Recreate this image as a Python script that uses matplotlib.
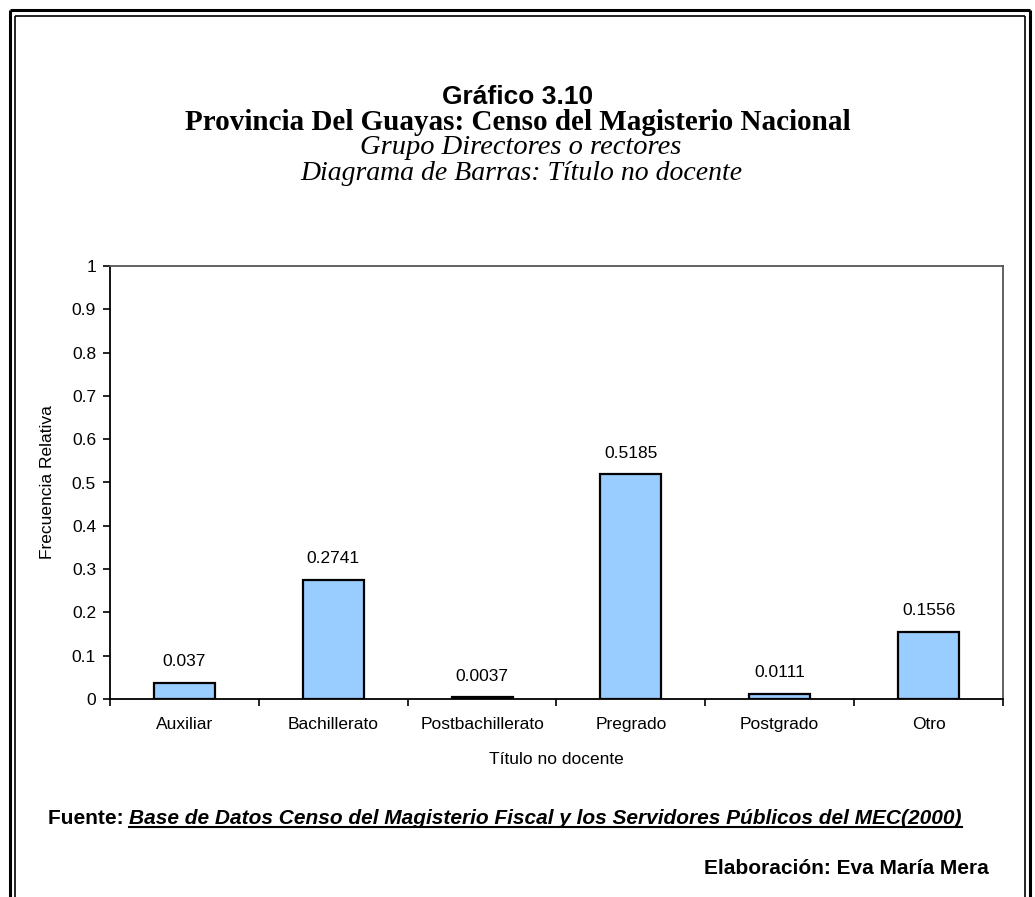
import matplotlib
matplotlib.use("Agg")
import matplotlib.pyplot as plt
from matplotlib.lines import Line2D

categories = ["Auxiliar", "Bachillerato", "Postbachillerato", "Pregrado", "Postgrado", "Otro"]
frecuencia = [0.037, 0.2741, 0.0037, 0.5185, 0.0111, 0.1556]
value_labels = ["0.037", "0.2741", "0.0037", "0.5185", "0.0111", "0.1556"]
y_ticks = [0, 0.1, 0.2, 0.3, 0.4, 0.5, 0.6, 0.7, 0.8, 0.9, 1]
y_tick_labels = ["0", "0.1", "0.2", "0.3", "0.4", "0.5", "0.6", "0.7", "0.8", "0.9", "1"]

W, H = 1035, 897
fig = plt.figure(figsize=(W / 100, H / 100), dpi=100)
fig.patch.set_facecolor("white")

SANS = "Liberation Sans"
SERIF = "Liberation Serif"
SMALL = 12.5


def fx(px):
    return px / W


def fy(py):
    return 1 - py / H


# double border around the page
for (x0, y0, x1, y1, lw) in [
    (9.5, 897, 9.5, 10, 2.2), (9.5, 10, 1029.5, 10, 2.2), (1029.5, 10, 1029.5, 897, 2.2),
    (14.5, 897, 14.5, 16, 1.2), (14.5, 16, 1024.5, 16, 1.2), (1024.5, 16, 1024.5, 897, 1.2),
]:
    fig.add_artist(Line2D([fx(x0), fx(x1)], [fy(y0), fy(y1)], color="black", lw=lw,
                          solid_capstyle="butt"))

# titles
fig.text(fx(518), fy(97), "Gráfico 3.10", ha="center", va="center",
         fontsize=19, fontweight="bold", family=SANS)
fig.text(fx(518), fy(122), "Provincia Del Guayas: Censo del Magisterio Nacional", ha="center",
         va="center", fontsize=21, fontweight="bold", family=SERIF)
fig.text(fx(521), fy(148), "Grupo Directores o rectores", ha="center", va="center",
         fontsize=20.5, style="italic", family=SERIF)
fig.text(fx(521), fy(173), "Diagrama de Barras: Título no docente", ha="center", va="center",
         fontsize=20, style="italic", family=SERIF)

# chart
ax = fig.add_axes([fx(110), fy(699), fx(1003) - fx(110), fy(266) - fy(699)])
x = list(range(len(categories)))
ax.bar(x, frecuencia, width=0.41, color="#99CCFF", edgecolor="black", linewidth=1.6, zorder=3)
for xi, v, lab in zip(x, frecuencia, value_labels):
    ax.annotate(lab, (xi, v), xytext=(0, 10), textcoords="offset points", ha="center",
                va="bottom", fontsize=SMALL, family=SANS)

ax.set_xlim(-0.5, len(categories) - 0.5)
ax.set_ylim(0, 1)
ax.set_yticks(y_ticks)
ax.set_yticklabels(y_tick_labels, fontsize=SMALL, family=SANS)
ax.set_xticks(x)
ax.set_xticklabels(categories, fontsize=SMALL, family=SANS)
ax.tick_params(axis="x", which="major", length=0, pad=13)
ax.set_xticks([i + 0.5 for i in range(-1, len(categories))], minor=True)
ax.tick_params(axis="x", which="minor", length=5, width=1.2, direction="out")
ax.tick_params(axis="y", length=5, width=1.2, direction="out", pad=5)

for s in ["left", "bottom"]:
    ax.spines[s].set_color("black")
    ax.spines[s].set_linewidth(1.3)
for s in ["top", "right"]:
    ax.spines[s].set_color("#555555")
    ax.spines[s].set_linewidth(1.3)

ax.set_ylabel("Frecuencia Relativa", fontsize=SMALL, family=SANS, labelpad=12)
ax.set_xlabel("Título no docente", fontsize=SMALL, family=SANS, labelpad=14)

# source and author lines
renderer = fig.canvas.get_renderer()
base_y = 824
t1 = fig.text(fx(48), fy(base_y), "Fuente: ", ha="left", va="baseline", fontsize=15,
              fontweight="bold", family=SANS)
bb = t1.get_window_extent(renderer)
t2 = fig.text(bb.x1 / W, fy(base_y),
              "Base de Datos Censo del Magisterio Fiscal y los Servidores Públicos del MEC(2000)",
              ha="left", va="baseline", fontsize=15, fontweight="bold", style="italic", family=SANS)
bb2 = t2.get_window_extent(renderer)
fig.add_artist(Line2D([bb2.x0 / W, bb2.x1 / W], [fy(base_y + 3), fy(base_y + 3)],
                      color="black", lw=1.5))

fig.text(fx(989), fy(874), "Elaboración: Eva María Mera", ha="right", va="baseline",
         fontsize=15, fontweight="bold", family=SANS)

fig.savefig("out.png", dpi=100)
